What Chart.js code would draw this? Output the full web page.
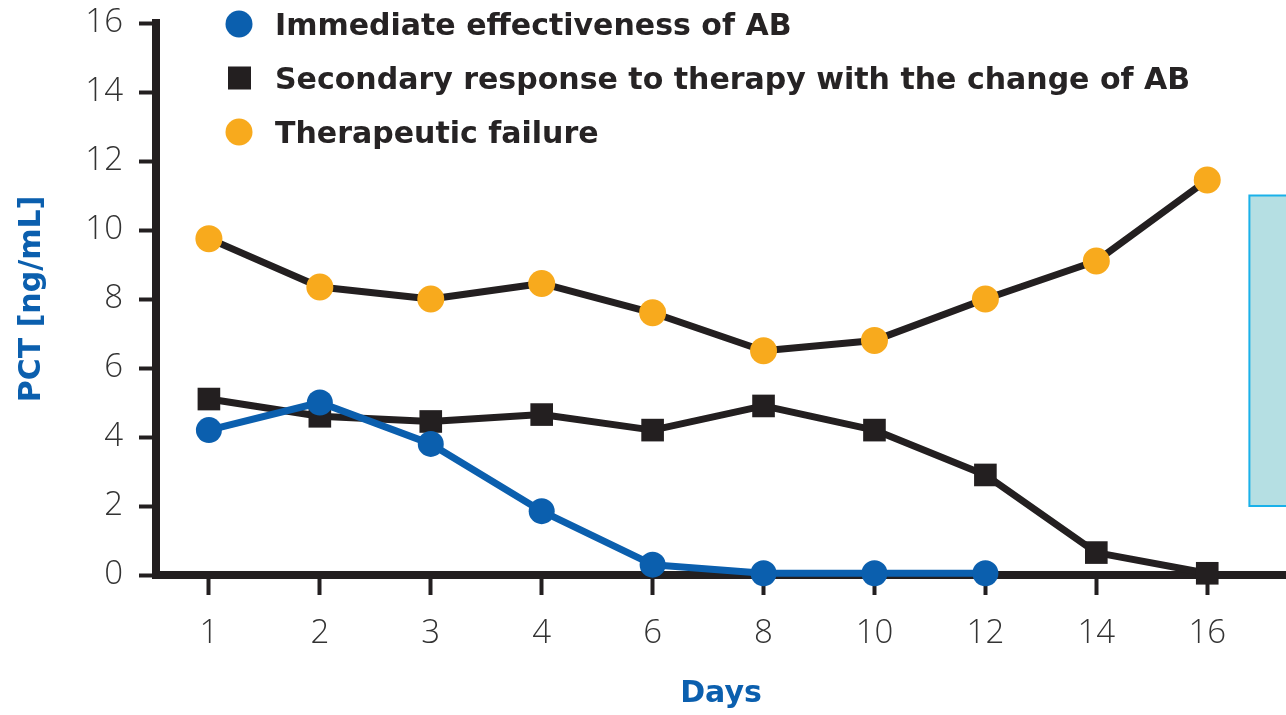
<!DOCTYPE html>
<html>
<head>
<meta charset="utf-8">
<script src="https://cdn.jsdelivr.net/npm/chart.js@4/dist/chart.umd.min.js"></script>
<style>
  html, body { margin: 0; padding: 0; background: #fff; }
  #wrap { width: 1286px; height: 715px; }
</style>
</head>
<body>
<div id="wrap"><canvas id="c" width="1286" height="715"></canvas></div>
<script>
// Days on which PCT was measured (evenly spaced on the axis)
const days = ['1', '2', '3', '4', '6', '8', '10', '12', '14', '16'];

// PCT [ng/mL] per group
const immediateEffect = [4.2, 5.0, 3.8, 1.85, 0.3, 0.05, 0.05, 0.05, null, null];
const secondaryResponse = [5.1, 4.6, 4.45, 4.65, 4.2, 4.9, 4.2, 2.9, 0.65, 0.05];
const therapeuticFailure = [9.75, 8.35, 8.0, 8.45, 7.6, 6.5, 6.8, 8.0, 9.1, 11.45];

const yTicks = [0, 2, 4, 6, 8, 10, 12, 14, 16];

const seriesNames = [
  'Immediate effectiveness of AB',
  'Secondary response to therapy with the change of AB',
  'Therapeutic failure'
];

const BLUE = '#0b5fae';
const DARK = '#231f20';
const ORANGE = '#f8aa1d';
const TEXT = '#333333';
const TICK_FONT = '"Open Sans", "DejaVu Sans", sans-serif';
const BOLD_FONT = '"DejaVu Sans", "Open Sans", sans-serif';

const toPoints = arr => arr.map((v, i) => ({ x: i, y: v }));

// Legend drawn in the top-left of the plot
const legendPlugin = {
  id: 'pctLegend',
  afterDraw(chart) {
    const ctx = chart.ctx;
    const rows = [
      { text: seriesNames[0], style: 'circle', color: BLUE, y: 24 },
      { text: seriesNames[1], style: 'rect', color: DARK, y: 78 },
      { text: seriesNames[2], style: 'circle', color: ORANGE, y: 132 }
    ];
    ctx.save();
    ctx.font = 'bold 30px ' + BOLD_FONT;
    ctx.textBaseline = 'alphabetic';
    ctx.textAlign = 'left';
    rows.forEach(r => {
      ctx.fillStyle = r.color;
      if (r.style === 'circle') {
        ctx.beginPath();
        ctx.arc(239, r.y, 13.5, 0, Math.PI * 2);
        ctx.fill();
      } else {
        ctx.fillRect(228, r.y - 11.5, 23, 23);
      }
      ctx.fillStyle = '#262324';
      ctx.fillText(r.text, 275, r.y + 11);
    });
    ctx.restore();
  }
};

// Light cyan panel at the right edge of the plot
const panelPlugin = {
  id: 'sidePanel',
  beforeDatasetsDraw(chart) {
    const { ctx, scales: { x, y } } = chart;
    const left = x.getPixelForValue(9.38);
    const top = y.getPixelForValue(11);
    const bottom = y.getPixelForValue(2);
    ctx.save();
    ctx.fillStyle = '#b5dfe3';
    ctx.fillRect(left, top, chart.width - left + 5, bottom - top);
    ctx.strokeStyle = '#1ab1e9';
    ctx.lineWidth = 2;
    ctx.strokeRect(left, top, chart.width - left + 5, bottom - top);
    ctx.restore();
  }
};

// Keep the plot area fixed: no extra room reserved for edge tick labels
function noEdgePadding(scale) {
  scale.paddingTop = 0;
  scale.paddingBottom = 0;
  scale.paddingLeft = 0;
  scale.paddingRight = 0;
}

new Chart(document.getElementById('c'), {
  type: 'line',
  data: {
    datasets: [
      {
        label: seriesNames[0],
        data: toPoints(immediateEffect),
        borderColor: BLUE,
        backgroundColor: BLUE,
        borderWidth: 7,
        pointStyle: 'circle',
        pointRadius: 13,
        pointBorderWidth: 0,
        spanGaps: false
      },
      {
        label: seriesNames[1],
        data: toPoints(secondaryResponse),
        borderColor: DARK,
        backgroundColor: DARK,
        borderWidth: 7,
        pointStyle: 'rect',
        pointRadius: 16,
        pointBorderWidth: 0
      },
      {
        label: seriesNames[2],
        data: toPoints(therapeuticFailure),
        borderColor: DARK,
        backgroundColor: ORANGE,
        borderWidth: 7,
        pointStyle: 'circle',
        pointRadius: 13.5,
        pointBorderWidth: 0
      }
    ]
  },
  options: {
    responsive: false,
    animation: false,
    clip: false,
    layout: { autoPadding: false, padding: { top: 23, right: 0, left: 0, bottom: 0 } },
    plugins: {
      legend: { display: false },
      tooltip: { enabled: false }
    },
    elements: { line: { tension: 0, borderJoinStyle: 'round', borderCapStyle: 'round' } },
    scales: {
      x: {
        type: 'linear',
        min: -0.477,
        max: 9.71,
        afterBuildTicks(scale) {
          scale.ticks = days.map((d, i) => ({ value: i }));
        },
        afterFit(scale) {
          scale.height = 140;
          noEdgePadding(scale);
        },
        ticks: {
          callback: v => days[v],
          color: TEXT,
          font: { family: TICK_FONT, size: 33, weight: '300' },
          padding: 19,
          maxRotation: 0,
          autoSkip: false
        },
        border: { display: true, width: 8, color: DARK },
        grid: {
          drawOnChartArea: false,
          drawTicks: true,
          tickLength: 20,
          tickWidth: 4,
          tickColor: DARK
        },
        title: {
          display: true,
          text: 'Days',
          color: BLUE,
          font: { family: BOLD_FONT, size: 30, weight: 'bold' },
          padding: { top: 0, bottom: 3 }
        }
      },
      y: {
        min: 0,
        max: 16,
        afterBuildTicks(scale) {
          scale.ticks = yTicks.map(v => ({ value: v }));
        },
        afterFit(scale) {
          scale.width = 156;
          noEdgePadding(scale);
        },
        ticks: {
          color: TEXT,
          font: { family: TICK_FONT, size: 33, weight: '300' },
          padding: 16
        },
        border: { display: true, width: 8, color: DARK },
        grid: {
          drawOnChartArea: false,
          drawTicks: true,
          tickLength: 17,
          tickWidth: 4,
          tickColor: DARK
        },
        title: {
          display: true,
          text: 'PCT [ng/mL]',
          color: BLUE,
          font: { family: BOLD_FONT, size: 30, weight: 'bold' },
          padding: { top: 14, bottom: 0 }
        }
      }
    }
  },
  plugins: [panelPlugin, legendPlugin]
});
</script>
</body>
</html>
